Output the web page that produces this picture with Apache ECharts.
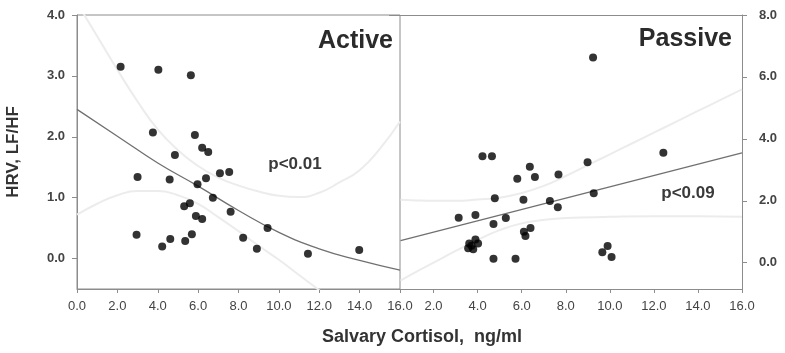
<!DOCTYPE html>
<html><head><meta charset="utf-8">
<script src="https://cdn.jsdelivr.net/npm/echarts@6/dist/echarts.min.js"></script>
<style>html,body{margin:0;padding:0;background:#fff}#c{width:785px;height:353px}</style>
</head><body><div id="c"></div>
<script>
// ---- Active panel data ----
const activeX = [2.16,4.03,5.64,3.76,5.84,6.20,6.50,4.85,3.00,4.59,5.97,6.39,7.08,7.54,6.73,5.59,5.31,7.61,5.89,6.20,2.95,5.69,4.62,5.36,4.22,9.44,8.23,8.91,11.44,13.98];
const activeY = [3.15,3.10,3.01,2.07,2.03,1.82,1.75,1.70,1.34,1.30,1.22,1.32,1.40,1.42,1.00,0.91,0.86,0.77,0.70,0.65,0.39,0.40,0.32,0.29,0.20,0.50,0.34,0.16,0.08,0.14];
const activeFitX = [0,2,4,6,8,10,12,14,16];
const activeFitY = [2.45,2.01,1.57,1.19,0.79,0.43,0.16,-0.03,-0.19];
const activeUpperX = [0,1,2,3,4,5,6,7,8,9,10,11,12,13,14,15,16];
const activeUpperY = [4.2,3.65,3.1,2.58,2.12,1.78,1.52,1.33,1.2,1.1,1.03,1.01,1.08,1.25,1.45,1.8,2.25];
const activeLowerX = [0,1,2,3,4,5,6,7,8,9,10,11,12,13];
const activeLowerY = [0.72,0.9,1.04,1.11,1.11,1.04,0.9,0.68,0.45,0.21,-0.02,-0.27,-0.52,-0.78];

// ---- Passive panel data ----
const passiveX = [4.22,4.65,6.37,5.80,6.60,7.67,8.99,12.43,9.27,4.78,6.08,7.28,7.64,3.14,3.90,5.28,4.72,6.40,6.10,6.17,3.90,3.62,4.02,3.57,3.80,3.72,4.72,5.72,9.90,9.66,10.08,9.24];
const passiveY = [3.44,3.44,3.10,2.71,2.77,2.85,3.24,3.55,2.24,2.08,2.03,1.99,1.79,1.45,1.54,1.44,1.25,1.12,1.00,0.86,0.75,0.62,0.62,0.47,0.43,0.55,0.13,0.13,0.54,0.34,0.18,6.63];
const passiveFitX = [0.5,16];
const passiveFitY = [0.71,3.55];
const passiveUpperX = [0.5,1,2,3,4,5,6,7,8,9,10,11,12,13,14,15,16];
const passiveUpperY = [2.03,2.02,2.0,2.0,2.04,2.1,2.25,2.48,2.8,3.15,3.5,3.85,4.2,4.55,4.9,5.25,5.6];
const passiveLowerX = [0.5,1,2,3,4,5,6,7,8,10,12,14,16];
const passiveLowerY = [-0.58,-0.38,0.0,0.38,0.74,1.05,1.27,1.38,1.44,1.48,1.5,1.5,1.48];

// ---- Ticks / labels ----
const leftXTicks = [0,2,4,6,8,10,12,14,16];
const rightXTicks = [2,4,6,8,10,12,14,16];
const leftYTicks = [0,1,2,3,4];
const rightYTicks = [0,2,4,6,8];
const xTitle = 'Salvary Cortisol,  ng/ml';
const yTitle = 'HRV, LF/HF';
const panelTitles = ['Active','Passive'];
const pTexts = ['p<0.01','p<0.09'];

const F = '"Liberation Sans", Arial, Helvetica, sans-serif';
const AX = '#8c8c8c';
const zip = (xs, ys) => xs.map((x, i) => [x, ys[i]]);
const fmt = v => Number(v).toFixed(1);

const chart = echarts.init(document.getElementById('c'), null, {renderer: 'canvas'});

const tickLbl = {fontSize: 13, color: '#444', fontFamily: F};
const yLbl = {fontSize: 13, color: '#444', fontWeight: 'bold', fontFamily: F};

function bandSeries(xi, yi, data) {
  return {type: 'line', xAxisIndex: xi, yAxisIndex: yi, data: data, smooth: true, symbol: 'none',
    lineStyle: {color: '#ececec', width: 2}, z: 1, silent: true};
}
function fitSeries(xi, yi, data, smooth) {
  return {type: 'line', xAxisIndex: xi, yAxisIndex: yi, data: data, smooth: smooth, symbol: 'none',
    lineStyle: {color: '#707070', width: 1.3}, z: 2, silent: true};
}
function scatterSeries(xi, yi, data) {
  return {type: 'scatter', xAxisIndex: xi, yAxisIndex: yi, data: data, symbol: 'circle', symbolSize: 8,
    itemStyle: {color: '#000'}, z: 3};
}

const option = {
  animation: false,
  backgroundColor: '#fff',
  textStyle: {fontFamily: F},
  grid: [
    {left: 77, right: 385, top: 15, bottom: 64, show: true, borderColor: AX, borderWidth: 1, backgroundColor: 'transparent'},
    {left: 389.5, right: 43, top: 15, bottom: 64}
  ],
  xAxis: [
    {gridIndex: 0, type: 'value', min: 0, max: 16, interval: 2,
      axisLine: {show: true, onZero: false, lineStyle: {color: AX}},
      axisTick: {show: true, length: 4, lineStyle: {color: AX}, customValues: leftXTicks},
      axisLabel: Object.assign({margin: 11, formatter: fmt, customValues: leftXTicks}, tickLbl),
      splitLine: {show: false}},
    {gridIndex: 1, type: 'value', min: 0, max: 16,
      axisLine: {show: true, onZero: false, lineStyle: {color: AX}},
      axisTick: {show: true, length: 4, lineStyle: {color: AX}, customValues: rightXTicks},
      axisLabel: Object.assign({margin: 11, formatter: fmt, customValues: rightXTicks}, tickLbl),
      splitLine: {show: false}},
    {gridIndex: 1, type: 'value', position: 'top', min: 0, max: 16,
      axisLine: {show: true, onZero: false, lineStyle: {color: AX}},
      axisTick: {show: false}, axisLabel: {show: false}, splitLine: {show: false}}
  ],
  yAxis: [
    {gridIndex: 0, type: 'value', min: -0.5, max: 4,
      axisLine: {show: true, onZero: false, lineStyle: {color: AX}},
      axisTick: {show: true, length: 5, lineStyle: {color: AX}, customValues: leftYTicks},
      axisLabel: Object.assign({margin: 12, formatter: fmt, customValues: leftYTicks}, yLbl),
      splitLine: {show: false},
      name: yTitle, nameLocation: 'middle', nameGap: 55, nameRotate: 90,
      nameTextStyle: {fontSize: 17, fontWeight: 'bold', color: '#333', fontFamily: F}},
    {gridIndex: 1, type: 'value', position: 'right', min: -0.85, max: 8,
      axisLine: {show: true, onZero: false, lineStyle: {color: AX}},
      axisTick: {show: true, length: 5, lineStyle: {color: AX}, customValues: rightYTicks},
      axisLabel: Object.assign({margin: 17, formatter: fmt, customValues: rightYTicks}, yLbl),
      splitLine: {show: false}}
  ],
  series: [
    bandSeries(0, 0, zip(activeUpperX, activeUpperY)),
    bandSeries(0, 0, zip(activeLowerX, activeLowerY)),
    fitSeries(0, 0, zip(activeFitX, activeFitY), true),
    scatterSeries(0, 0, zip(activeX, activeY)),
    bandSeries(1, 1, zip(passiveUpperX, passiveUpperY)),
    bandSeries(1, 1, zip(passiveLowerX, passiveLowerY)),
    fitSeries(1, 1, zip(passiveFitX, passiveFitY), false),
    scatterSeries(1, 1, zip(passiveX, passiveY))
  ],
  graphic: [
    {type: 'text', x: 393, y: 41, z: 10, style: {text: panelTitles[0], textAlign: 'right', align: 'right', textVerticalAlign: 'middle', verticalAlign: 'middle', fontSize: 25, fontWeight: 'bold', fontFamily: F, fill: '#2b2b2b'}},
    {type: 'text', x: 732, y: 39, z: 10, style: {text: panelTitles[1], textAlign: 'right', align: 'right', textVerticalAlign: 'middle', verticalAlign: 'middle', fontSize: 25, fontWeight: 'bold', fontFamily: F, fill: '#2b2b2b'}},
    {type: 'text', x: 295, y: 164, z: 10, style: {text: pTexts[0], textAlign: 'center', align: 'center', textVerticalAlign: 'middle', verticalAlign: 'middle', fontSize: 17, fontWeight: 'bold', fontFamily: F, fill: '#3a3a3a'}},
    {type: 'text', x: 688, y: 193, z: 10, style: {text: pTexts[1], textAlign: 'center', align: 'center', textVerticalAlign: 'middle', verticalAlign: 'middle', fontSize: 17, fontWeight: 'bold', fontFamily: F, fill: '#3a3a3a'}},
    {type: 'text', x: 422, y: 337, z: 10, style: {text: xTitle, textAlign: 'center', align: 'center', textVerticalAlign: 'middle', verticalAlign: 'middle', fontSize: 18, fontWeight: 'bold', fontFamily: F, fill: '#333'}}
  ]
};
chart.setOption(option);
</script>
</body></html>
